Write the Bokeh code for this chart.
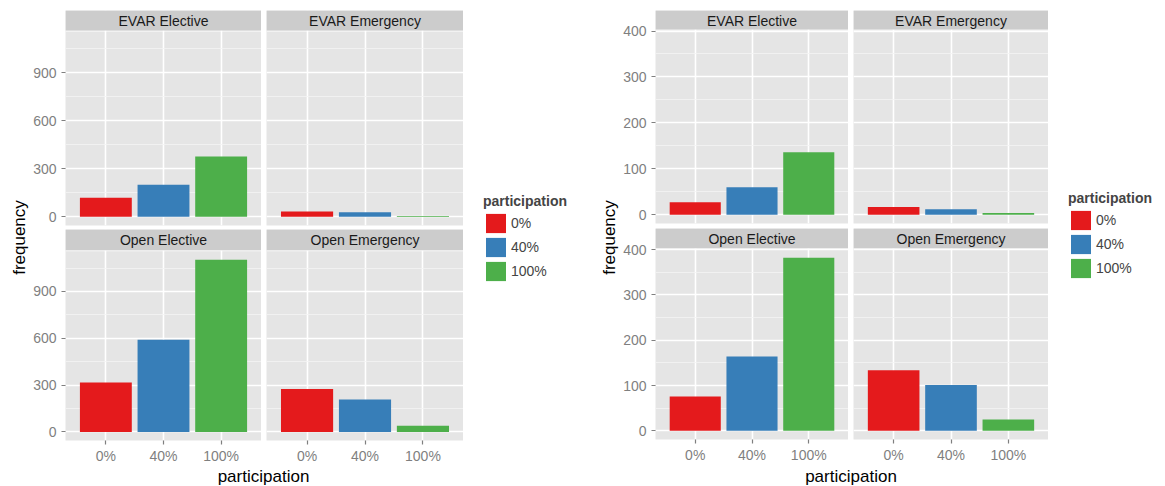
from math import pi
from bokeh.plotting import figure
from bokeh.layouts import row, column
from bokeh.models import (FactorRange, Range1d, FixedTicker, Legend, LegendItem,
                          ColumnDataSource, BoxAnnotation, Label)
from bokeh.core.properties import value
from bokeh.embed import file_html
from bokeh.resources import INLINE

# ---------------- data ----------------
participation = ["0%", "40%", "100%"]
colors = ["#E41A1C", "#377EB8", "#4DAF4A"]
facet_names = ["EVAR Elective", "EVAR Emergency", "Open Elective", "Open Emergency"]

left_evar_elective = [118, 199, 377]
left_evar_emergency = [32, 27, 4]
left_open_elective = [317, 590, 1103]
left_open_emergency = [275, 208, 40]
left_ticks = [0, 300, 600, 900]

right_evar_elective = [27, 60, 136]
right_evar_emergency = [17, 12, 4]
right_open_elective = [76, 164, 382]
right_open_emergency = [134, 101, 25]
right_ticks = [0, 100, 200, 300, 400]

x_title = "participation"
y_title = "frequency"
legend_title = "participation"

# ---------------- style ----------------
FONT = "Liberation Sans"
PANEL_BG = "#E5E5E5"
STRIP_BG = "#CCCCCC"
GREY50 = "#7F7F7F"
TICK_PX = "14px"
TOTAL_H = 486


def base_fig(width, height, left=0, right=0, top=0, bottom=0, **kw):
    p = figure(width=width, height=height, min_border_left=left, min_border_right=right,
               min_border_top=top, min_border_bottom=bottom,
               output_backend="svg", toolbar_location=None, tools="", **kw)
    p.outline_line_color = None
    p.border_fill_color = "white"
    return p


def facet(values, label, ymax, ticks, frame_w, left_border, show_y, show_x,
          top_border, strip_px, panel_px, bottom_border):
    height = top_border + strip_px + 1 + panel_px + bottom_border
    dpp = 1.1 * ymax / panel_px          # data units per pixel in the panel
    y_panel_top = 1.05 * ymax
    y_end = y_panel_top + (strip_px + 1) * dpp
    p = base_fig(left_border + frame_w, height, left=left_border,
                 top=top_border, bottom=bottom_border,
                 x_range=FactorRange(factors=participation, range_padding=0.2,
                                     range_padding_units="absolute"),
                 y_range=Range1d(-0.05 * ymax, y_end))
    p.background_fill_color = PANEL_BG
    src = ColumnDataSource(dict(x=participation, top=values, color=colors))
    p.vbar(x="x", top="top", width=0.9, fill_color="color", line_color=None, source=src)

    step = ticks[1] - ticks[0]
    p.yaxis.ticker = FixedTicker(ticks=ticks, minor_ticks=[t + step / 2 for t in ticks])
    p.ygrid.grid_line_color = "white"
    p.ygrid.grid_line_width = 1.6
    p.ygrid.minor_grid_line_color = "#F4F4F4"
    p.ygrid.minor_grid_line_width = 0.8
    p.xgrid.grid_line_color = "white"
    p.xgrid.grid_line_width = 1.6

    for ax in (p.xaxis[0], p.yaxis[0]):
        ax.axis_line_color = None
        ax.major_tick_in = 0
        ax.major_tick_out = 4
        ax.major_tick_line_color = GREY50
        ax.major_tick_line_width = 1.2
        ax.minor_tick_line_color = None
        ax.major_label_text_color = GREY50
        ax.major_label_text_font = FONT
        ax.major_label_text_font_size = TICK_PX
    p.yaxis.major_label_standoff = 5
    p.xaxis.major_label_standoff = 3
    p.yaxis.visible = show_y
    p.xaxis.visible = show_x

    # facet strip on top of the panel
    p.add_layout(BoxAnnotation(bottom=y_panel_top, top=y_panel_top + dpp,
                               fill_color="white", fill_alpha=1, line_color=None))
    p.add_layout(BoxAnnotation(bottom=y_panel_top + dpp, fill_color=STRIP_BG,
                               fill_alpha=1, line_color=None))
    p.add_layout(Label(x=len(participation) / 2, y=(y_panel_top + dpp + y_end) / 2 - 0.6 * dpp,
                       text=label, text_align="center", text_baseline="middle",
                       text_font=FONT, text_font_size=TICK_PX, text_color="#1A1A1A"))
    return p


def ylab_fig(width, cx, cy_from_top):
    f = base_fig(width, TOTAL_H, x_range=Range1d(0, width), y_range=Range1d(0, TOTAL_H),
                 x_axis_location=None, y_axis_location=None)
    f.grid.visible = False
    f.text(x=[cx], y=[TOTAL_H - cy_from_top], text=[y_title], angle=pi / 2,
           text_align="center", text_baseline="middle",
           text_font=value(FONT), text_font_size="17px", text_color="black")
    return f


def xtitle_fig(width, height, cx):
    f = base_fig(width, height, x_range=Range1d(0, width), y_range=Range1d(0, height),
                 x_axis_location=None, y_axis_location=None)
    f.grid.visible = False
    f.text(x=[cx], y=[height / 2], text=[x_title], text_align="center", text_baseline="middle",
           text_font=value(FONT), text_font_size="17px", text_color="black")
    return f


def legend_fig(width, key_x, bottom_y):
    f = base_fig(width, TOTAL_H, x_range=Range1d(0, 1), y_range=Range1d(0, 1),
                 x_axis_location=None, y_axis_location=None)
    f.grid.visible = False
    items = []
    for cat, col in zip(participation, colors):
        r = f.vbar(x=[0], top=[0], width=0, fill_color=col, line_color=None)
        items.append(LegendItem(label=cat, renderers=[r]))
    lg = Legend(items=items, location=(key_x, bottom_y), title=legend_title,
                title_text_font=FONT, title_text_font_style="bold",
                title_text_font_size="14px", title_standoff=2,
                label_text_font=FONT, label_text_font_size=TICK_PX,
                glyph_width=25, glyph_height=24, label_height=24, spacing=0,
                padding=0, margin=0, label_standoff=3,
                border_line_color=None, background_fill_alpha=0)
    f.add_layout(lg)
    return f


def chart(panels, ticks, L):
    ymax = max(max(v) for v in panels)
    lb, gap = 33, 5
    w1, w2 = L["w1"], L["w2"]
    top_args = (L["top"], L["s1"], L["p1"], L["b1"])
    bot_args = (0, L["s2"], L["p2"], L["b2"])
    f1 = facet(panels[0], facet_names[0], ymax, ticks, w1, lb, True, False, *top_args)
    f2 = facet(panels[1], facet_names[1], ymax, ticks, w2, gap, False, False, *top_args)
    f3 = facet(panels[2], facet_names[2], ymax, ticks, w1, lb, True, True, *bot_args)
    f4 = facet(panels[3], facet_names[3], ymax, ticks, w2, gap, False, True, *bot_args)
    total_w = lb + w1 + gap + w2
    used = sum(top_args) + 1 + sum(bot_args) + 1
    xt = xtitle_fig(total_w, TOTAL_H - used, lb + (w1 + gap + w2) / 2)
    grid = column(row(f1, f2), row(f3, f4), xt)
    return row(ylab_fig(L["ylab_w"], L["ylab_cx"], 237), grid,
               legend_fig(L["leg_w"], 20, L["leg_bottom"]))


left_layout = dict(w1=198, w2=197, top=10, s1=20, p1=194, b1=4,
                   s2=21, p2=192, b2=23,
                   ylab_w=30, ylab_cx=19, leg_w=133, leg_bottom=203)
right_layout = dict(w1=195, w2=195, top=10, s1=19, p1=193, b1=5,
                    s2=20, p2=193, b2=23,
                    ylab_w=24, ylab_cx=13, leg_w=110, leg_bottom=206)

left = chart([left_evar_elective, left_evar_emergency, left_open_elective, left_open_emergency],
             left_ticks, left_layout)
right = chart([right_evar_elective, right_evar_emergency, right_open_elective, right_open_emergency],
              right_ticks, right_layout)

page = row(left, right)
open("out.html", "w").write(file_html(page, INLINE))
